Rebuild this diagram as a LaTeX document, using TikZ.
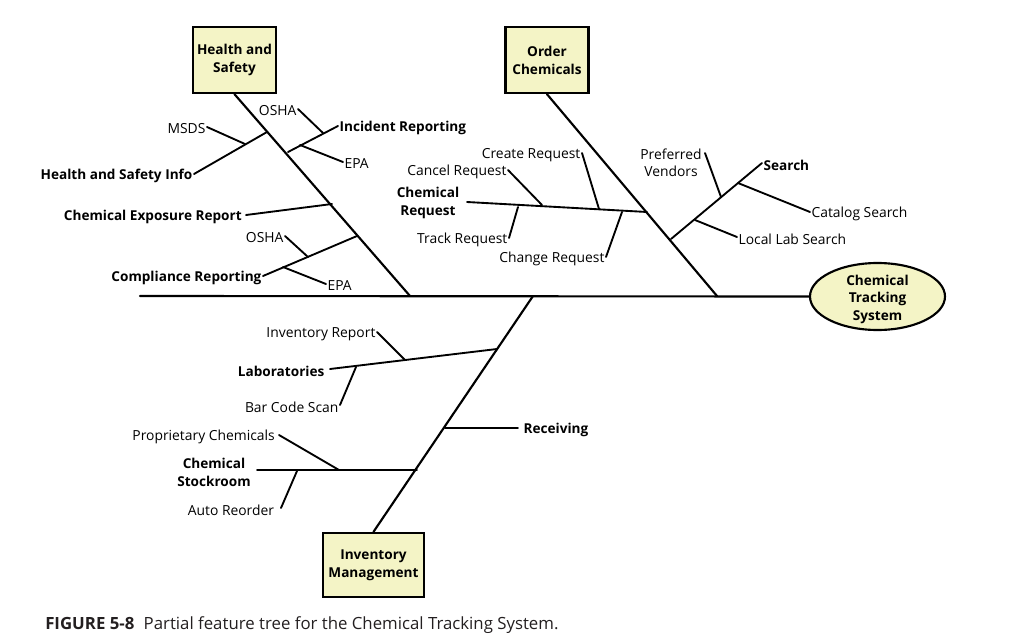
\documentclass[tikz,border=0pt]{standalone}
\usepackage{fontspec}
\setmainfont{Open Sans}
\usetikzlibrary{shapes.geometric}
\definecolor{boxfill}{RGB}{244,244,198}
\definecolor{captxt}{RGB}{35,31,32}
\tikzset{
  bone/.style={line width=1.6pt, line cap=round},
  twig/.style={line width=1.4pt, line cap=round},
  lbl/.style={font=\fontsize{10.4}{13}\selectfont, inner sep=1pt, text=black, yshift=-1.5pt},
  blbl/.style={lbl, font=\fontsize{10.2}{13.4}\selectfont\bfseries, align=center},
  catbox/.style={draw, line width=1.8pt, fill=boxfill, minimum width=83*0.75pt, minimum height=66*0.75pt, align=center, font=\fontsize{10.2}{13.4}\selectfont\bfseries, inner sep=0pt},
  headell/.style={ellipse, draw, line width=1.6pt, fill=boxfill, minimum width=135*0.75pt, minimum height=67*0.75pt, inner sep=0pt},
  headtxt/.style={align=center, font=\fontsize{10.2}{13.2}\selectfont\bfseries, inner sep=0pt}
}
\begin{document}
\begin{tikzpicture}[x=0.75pt,y=-0.75pt]
\useasboundingbox (0,0) rectangle (1017,639);
% head and spine
\node[headell] (head) at (877.5,296.5) {};
\node[headtxt] (headt) at ([yshift=-2pt]head.center) {Chemical\\Tracking\\System};
\coordinate (tail) at (140,296);
\draw[bone] (tail) -- (head.west);
% category boxes
\node[catbox] (hs) at (234.5,60) {Health and\\Safety};
\node[catbox] (oc) at (547,60) {Order\\Chemicals};
\node[catbox, minimum width=101*0.75pt, minimum height=64*0.75pt] (im) at (373.5,565) {Inventory\\Management};
\coordinate (hsj) at (410,296);
\coordinate (ocj) at (717,296);
\coordinate (imj) at (533,296);
\draw[bone] (hs.south) -- (hsj);
\draw[bone] (oc.south) -- (ocj);
\draw[bone] (im.north) -- (imj);

% ---- Health and Safety ----
\coordinate (ir0) at (288,152);
\coordinate (ir1) at (338,126);
\node[blbl, anchor=west] (irl) at (ir1) {Incident Reporting};
\draw[twig] (ir0) -- (ir1);
\coordinate (os1a) at (323,133);
\coordinate (os1b) at (298,109);
\node[lbl, anchor=east] (os1) at (os1b) {OSHA};
\draw[twig] (os1a) -- (os1b);
\coordinate (ep1a) at (300,145);
\coordinate (ep1b) at (343,162);
\node[lbl, anchor=west] (ep1) at (ep1b) {EPA};
\draw[twig] (ep1a) -- (ep1b);

\coordinate (hi0) at (267,132);
\coordinate (hi1) at (194,174);
\node[blbl, anchor=east] (hil) at (hi1) {Health and Safety Info};
\draw[twig] (hi0) -- (hi1);
\coordinate (ms0) at (245,144);
\coordinate (ms1) at (207,127);
\node[lbl, anchor=east] (msl) at (ms1) {MSDS};
\draw[twig] (ms0) -- (ms1);

\coordinate (ce0) at (332,204);
\coordinate (ce1) at (246,215);
\node[blbl, anchor=east] (cel) at ([xshift=-2]ce1) {Chemical Exposure Report};
\draw[twig] (ce0) -- (ce1);

\coordinate (cr0) at (357,236);
\coordinate (cr1) at (263,276);
\node[blbl, anchor=east] (crl) at (cr1) {Compliance Reporting};
\draw[twig] (cr0) -- (cr1);
\coordinate (os2a) at (308,257);
\coordinate (os2b) at (285,236);
\node[lbl, anchor=east] (os2) at (os2b) {OSHA};
\draw[twig] (os2a) -- (os2b);
\coordinate (ep2a) at (283,267);
\coordinate (ep2b) at (326,284);
\node[lbl, anchor=west] (ep2) at (ep2b) {EPA};
\draw[twig] (ep2a) -- (ep2b);

% ---- Order Chemicals ----
\coordinate (rq0) at (647,212);
\coordinate (rq1) at (467,202);
\node[blbl] (rql) at (428,201) {Chemical\\Request};
\draw[twig] (rq0) -- (rq1);
\coordinate (cq0) at (599,209);
\coordinate (cq1) at (582,153);
\node[lbl, anchor=east] (cql) at (cq1) {Create Request};
\draw[twig] (cq0) -- (cq1);
\coordinate (kq0) at (542,205);
\coordinate (kq1) at (508,170);
\node[lbl, anchor=east] (kql) at (kq1) {Cancel Request};
\draw[twig] (kq0) -- (kq1);
\coordinate (tq0) at (518,207);
\coordinate (tq1) at (509,238);
\node[lbl, anchor=east] (tql) at (tq1) {Track Request};
\draw[twig] (tq0) -- (tq1);
\coordinate (hq0) at (622,212);
\coordinate (hq1) at (606,257);
\node[lbl, anchor=east] (hql) at (hq1) {Change Request};
\draw[twig] (hq0) -- (hq1);

\coordinate (se0) at (671,239);
\coordinate (se1) at (762,163);
\node[blbl, anchor=west] (sel) at (se1) {Search};
\draw[twig] (se0) -- (se1);
\coordinate (pv0) at (721,197);
\coordinate (pv1) at (705,153);
\node[lbl, align=center] (pvl) at (671,161) {Preferred\\Vendors};
\draw[twig] (pv0) -- (pv1);
\coordinate (cs0) at (738,183);
\coordinate (cs1) at (810,212);
\node[lbl, anchor=west] (csl) at (cs1) {Catalog Search};
\draw[twig] (cs0) -- (cs1);
\coordinate (ll0) at (695,220);
\coordinate (ll1) at (737,237);
\node[lbl, anchor=west] (lll) at (ll1) {Local Lab Search};
\draw[twig] (ll0) -- (ll1);

% ---- Inventory Management ----
\coordinate (lb0) at (497,349);
\coordinate (lb1) at (330,369);
\node[blbl, anchor=east] (lbl) at ([xshift=-3]lb1) {Laboratories};
\draw[twig] (lb0) -- (lb1);
\coordinate (ivr0) at (405,360);
\coordinate (ivr1) at (377,332);
\node[lbl, anchor=east] (ivrl) at (ivr1) {Inventory Report};
\draw[twig] (ivr0) -- (ivr1);
\coordinate (bc0) at (356,367);
\coordinate (bc1) at (340,405);
\node[lbl, anchor=east] (bcl) at (bc1) {Bar Code Scan};
\draw[twig] (bc0) -- (bc1);

\coordinate (rv0) at (445,428);
\coordinate (rv1) at (518,428);
\node[blbl, anchor=west] (rvl) at ([xshift=3]rv1) {Receiving};
\draw[twig] (rv0) -- (rv1);

\coordinate (st0) at (417,470);
\coordinate (st1) at (257,470);
\node[blbl] (stl) at (214,470) {Chemical\\Stockroom};
\draw[twig] (st0) -- (st1);
\coordinate (pc0) at (339,470);
\coordinate (pc1) at (279,435);
\node[lbl, anchor=east] (pcl) at ([xshift=-2]pc1) {Proprietary Chemicals};
\draw[twig] (pc0) -- (pc1);
\coordinate (ar0) at (297,471);
\coordinate (ar1) at (281,508);
\node[lbl, anchor=east] (arl) at ([xshift=-4]ar1) {Auto Reorder};
\draw[twig] (ar0) -- (ar1);

% caption
\node[anchor=west, inner sep=0pt, text=captxt, font=\fontsize{12.6}{14}\selectfont, yshift=-1.5pt] (cap) at (45,623) {\textbf{FIGURE 5-8}\hspace{7pt}Partial feature tree for the Chemical Tracking System.};
\end{tikzpicture}
\end{document}
